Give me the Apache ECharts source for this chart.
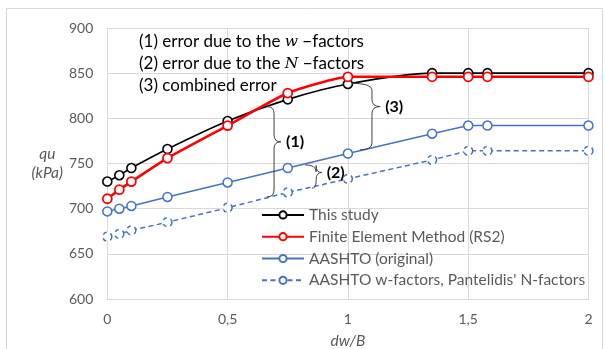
<!DOCTYPE html>
<html>
<head>
<meta charset="utf-8">
<script src="https://cdn.jsdelivr.net/npm/echarts@6/dist/echarts.min.js"></script>
<style>
  html, body { margin: 0; padding: 0; background: #fff; }
  #chart { width: 605px; height: 349px; }
</style>
</head>
<body>
<div id="chart"></div>
<script>
// Bearing capacity qu (kPa) against the normalized water depth dw/B
const dwB = [0, 0.05, 0.1, 0.25, 0.5, 0.75, 1, 1.35, 1.5, 1.58, 2];
const thisStudy = [730, 737, 745, 766, 797, 821, 838, 850, 850, 850, 850];
const femRS2 = [711, 721, 730, 756, 792, 828, 846, 846, 846, 846, 846];
const aashtoOriginal = [697, 700, 703, 713, 729, 745, 761, 783, 792, 792, 792];
const aashtoPantelidis = [669, 672, 676, 685, 701, 718, 733, 754, 764, 764, 764];

const xTickLabels = ['0', '0,5', '1', '1,5', '2'];
const seriesNames = [
  'This study',
  'Finite Element Method (RS2)',
  'AASHTO (original)',
  "AASHTO w-factors, Pantelidis' N-factors"
];

// Brace annotations in data units: left end x at top/bottom, top/bottom/tip values
const braces = [
  { label: '(1)', xTop: 0.664, xBottom: 0.664, spineX: 0.693, tipX: 0.722, top: 813, bottom: 713, tip: 774 },
  { label: '(2)', xTop: 0.822, xBottom: 0.850, spineX: 0.868, tipX: 0.891, top: 748.5, bottom: 722.7, tip: 740 },
  { label: '(3)', xTop: 1.017, xBottom: 1.050, spineX: 1.100, tipX: 1.134, top: 838.8, bottom: 765, tip: 813 }
];

const FONT = 'Lato';
const GRAY = '#595959';

function pairs(ys) { return dwB.map((x, i) => [x, ys[i]]); }

const chart = echarts.init(document.getElementById('chart'), null, { renderer: 'canvas' });

const option = {
  animation: false,
  backgroundColor: '#ffffff',
  textStyle: { fontFamily: FONT },
  grid: { left: 107.3, right: 16.5, top: 28, bottom: 50, containLabel: false, outerBoundsMode: 'none' },
  xAxis: {
    type: 'value', min: 0, max: 2, interval: 0.5,
    name: 'dw/B', nameLocation: 'middle', nameGap: 34,
    nameTextStyle: { fontFamily: FONT, fontSize: 15.5, fontStyle: 'italic', color: GRAY },
    axisLine: { show: true, lineStyle: { color: '#d9d9d9', width: 1 } },
    axisTick: { show: false },
    axisLabel: {
      margin: 13, fontFamily: FONT, fontSize: 14, color: GRAY,
      formatter: v => xTickLabels[Math.round(v / 0.5)]
    },
    splitLine: { show: true, lineStyle: { color: '#d9d9d9', width: 1 } }
  },
  yAxis: {
    type: 'value', min: 600, max: 900, interval: 50,
    name: 'qu\n(kPa)', nameLocation: 'middle', nameGap: 60, nameRotate: 0,
    nameTextStyle: { fontFamily: FONT, fontSize: 15.5, fontStyle: 'italic', color: GRAY, lineHeight: 19, align: 'center', verticalAlign: 'middle' },
    axisLine: { show: true, lineStyle: { color: '#d9d9d9', width: 1 } },
    axisTick: { show: false },
    axisLabel: { margin: 14, fontFamily: FONT, fontSize: 14, color: GRAY },
    splitLine: { show: true, lineStyle: { color: '#d9d9d9', width: 1 } }
  },
  legend: {
    orient: 'vertical', left: 261, top: 204, padding: 0,
    itemWidth: 42, itemHeight: 9, itemGap: 0,
    textStyle: { fontFamily: FONT, fontSize: 15.5, color: GRAY, lineHeight: 21.8 },
    data: seriesNames
  },
  series: [
    {
      name: seriesNames[0], type: 'line', data: pairs(thisStudy), smooth: 0.25,
      symbol: 'circle', symbolSize: 9, z: 4,
      lineStyle: { color: '#000000', width: 1.6 },
      itemStyle: { color: '#ffffff', borderColor: '#000000', borderWidth: 1.6 }
    },
    {
      name: seriesNames[1], type: 'line', data: pairs(femRS2), smooth: 0.15,
      symbol: 'circle', symbolSize: 9, z: 5,
      lineStyle: { color: '#ff0000', width: 2.6 },
      itemStyle: { color: '#ffffff', borderColor: '#ff0000', borderWidth: 1.8 }
    },
    {
      name: seriesNames[2], type: 'line', data: pairs(aashtoOriginal),
      symbol: 'circle', symbolSize: 9, z: 3,
      lineStyle: { color: '#4472c4', width: 1.5 },
      itemStyle: { color: '#ffffff', borderColor: '#4472c4', borderWidth: 1.5 }
    },
    {
      name: seriesNames[3], type: 'line', data: pairs(aashtoPantelidis),
      symbol: 'circle', symbolSize: 9, z: 3,
      lineStyle: { color: '#4472c4', width: 1.5, type: [5, 3.5] },
      itemStyle: { color: '#ffffff', borderColor: '#4472c4', borderWidth: 1.5, borderType: [4, 4] }
    }
  ]
};

chart.setOption(option);

const braceStyle = { fill: null, stroke: '#404040', lineWidth: 1 };

// Curly brace made of quadratic curves and straight spine segments, tip pointing right
function braceElements(b) {
  const p = (x, y) => chart.convertToPixel({ gridIndex: 0 }, [x, y]);
  const [xlT, yT] = p(b.xTop, b.top);
  const [xlB, yB] = p(b.xBottom, b.bottom);
  const [xs] = p(b.spineX, b.tip);
  const [xt, yM] = p(b.tipX, b.tip);
  const r = 7;
  const curve = (x1, y1, cx, cy, x2, y2) => ({
    type: 'bezierCurve', silent: true, z: 10,
    shape: { x1, y1, x2, y2, cpx1: cx, cpy1: cy }, style: braceStyle
  });
  const seg = (x1, y1, x2, y2) => ({
    type: 'line', silent: true, z: 10,
    shape: { x1, y1, x2, y2 }, style: braceStyle
  });
  return {
    parts: [
      curve(xlT, yT, xs, yT, xs, yT + r),
      seg(xs, yT + r, xs, yM - r),
      curve(xs, yM - r, xs, yM, xt, yM),
      curve(xt, yM, xs, yM, xs, yM + r),
      seg(xs, yM + r, xs, yB - r),
      curve(xs, yB - r, xs, yB, xlB, yB)
    ],
    xt, yM
  };
}

const graphics = [
  {
    type: 'rect', silent: true, z: -1, x: 0, y: 0,
    shape: { x: 6.5, y: 8.5, width: 596, height: 360 },
    style: { fill: null, stroke: '#d9d9d9', lineWidth: 1 }
  },
  {
    type: 'text', x: 139, y: 31, z: 10,
    style: {
      text: '(1) error due to the {i|w} −factors\n(2) error due to the {i|N} −factors\n(3) combined error',
      fontFamily: FONT, fontSize: 17, fill: '#000000', lineHeight: 21.7,
      rich: {
        i: { fontFamily: 'DejaVu Serif', fontStyle: 'italic', fontSize: 15.5, fill: '#000000', lineHeight: 21.7 }
      }
    }
  }
];

braces.forEach(b => {
  const { parts, xt, yM } = braceElements(b);
  parts.forEach(el => graphics.push(el));
  graphics.push({
    type: 'text', z: 10, x: xt + 5, y: yM,
    style: {
      text: b.label, fontFamily: FONT, fontSize: 16, fontWeight: 'bold',
      fill: '#000000', verticalAlign: 'middle', align: 'left'
    }
  });
});

chart.setOption({ graphic: graphics });
</script>
</body>
</html>
